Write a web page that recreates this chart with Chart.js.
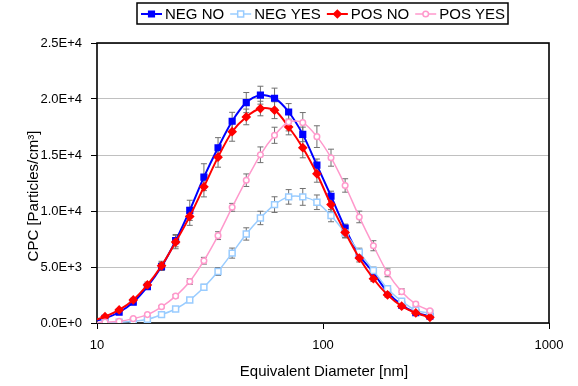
<!DOCTYPE html>
<html>
<head>
<meta charset="utf-8">
<title>CPC vs Equivalent Diameter</title>
<script src="https://cdn.jsdelivr.net/npm/chart.js"></script>
<style>
  html, body { margin: 0; padding: 0; background: #fff; }
  #wrap { width: 578px; height: 386px; }
</style>
</head>
<body>
<div id="wrap"><canvas id="cpcChart" width="578" height="386"></canvas></div>
<script>
// Diametros de movilidad (nm), 16 canales por decada
const diametros = [9.4, 10.85, 12.53, 14.47, 16.71, 19.30, 22.28, 25.73, 29.72, 34.32, 39.63, 45.76,
                   52.85, 61.03, 70.47, 81.38, 93.98, 108.5, 125.3, 144.7, 167.1, 193.0, 222.9, 257.4, 297.2];

// Concentraciones CPC (particulas/cm3)
const negNo  = [100, 420, 960, 1850, 3250, 5040, 7350, 10060, 13020, 15650, 18010, 19680, 20340,
                20070, 18840, 16840, 14090, 11320, 8480, 6050, 4500, 2750, 1600, 920, 600];
const negYes = [0, 20, 60, 150, 330, 750, 1250, 2060, 3200, 4600, 6240, 7950, 9380,
                10570, 11260, 11260, 10780, 9590, 8040, 6330, 4690, 3060, 1950, 1130, 870];
const posNo  = [150, 565, 1165, 2060, 3400, 5110, 7230, 9520, 12160, 14810, 17080, 18400, 19150,
                19000, 17500, 15650, 13320, 10570, 8090, 5800, 3950, 2510, 1500, 900, 510];
const posYes = [0, 80, 150, 390, 750, 1450, 2400, 3700, 5560, 7800, 10330, 12750, 15020,
                16760, 17950, 17890, 16640, 14760, 12280, 9470, 6900, 4480, 2800, 1690, 1100];

// Barras de error (+/-)
const errNegNo  = [0, 40, 80, 150, 250, 350, 550, 900, 1200, 900, 800, 900, 800,
                   900, 750, 650, 550, 450, 350, 300, 250, 150, 100, 80, 50];
const errNegYes = [0, 10, 20, 30, 50, 80, 120, 180, 250, 350, 450, 550, 600,
                   700, 650, 750, 650, 550, 450, 350, 300, 200, 150, 100, 80];
const errPosNo  = [0, 50, 100, 150, 250, 400, 600, 800, 900, 900, 850, 700, 650,
                   750, 700, 900, 750, 600, 450, 350, 250, 200, 150, 100, 60];
const errPosYes = [0, 10, 20, 40, 60, 100, 150, 250, 300, 350, 350, 560, 700,
                   720, 800, 900, 970, 760, 600, 520, 450, 350, 250, 150, 100];

const xTicks = [10, 100, 1000];

const FONT = "'Liberation Sans', Arial, sans-serif";
Chart.defaults.font.family = FONT;
Chart.defaults.color = "#000";

function puntos(valores) {
    return diametros.map((d, i) => ({ x: d, y: valores[i] }));
}

const series = [
    { label: "NEG NO",  data: negNo,  err: errNegNo,  color: "#0000FF", style: "rect",    radius: 4.0, fill: "#0000FF", width: 2,   order: 4 },
    { label: "NEG YES", data: negYes, err: errNegYes, color: "#99CCFF", style: "rect",    radius: 4.2, fill: "#FFFFFF", width: 1.5, order: 3 },
    { label: "POS NO",  data: posNo,  err: errPosNo,  color: "#FF0000", style: "rectRot", radius: 3.8, fill: "#FF0000", width: 2,   order: 2 },
    { label: "POS YES", data: posYes, err: errPosYes, color: "#FF99CC", style: "circle",  radius: 2.8, fill: "#FFFFFF", width: 1.5, order: 1 }
];

// ==============================
// Marco, barras de error
// ==============================
const fondoPlugin = {
    id: "fondo",
    beforeDatasetsDraw(chart) {
        const ctx = chart.ctx;
        const a = chart.chartArea;
        const yScale = chart.scales.y;
        ctx.save();
        // barras de error
        ctx.strokeStyle = "#707070";
        ctx.lineWidth = 1;
        series.forEach((s, di) => {
            const meta = chart.getDatasetMeta(di);
            meta.data.forEach((pt, i) => {
                const e = s.err[i];
                if (!e || pt.x < a.left) return;
                const y1 = yScale.getPixelForValue(s.data[i] + e);
                const y2 = yScale.getPixelForValue(Math.max(s.data[i] - e, 0));
                ctx.beginPath();
                ctx.moveTo(pt.x, y1); ctx.lineTo(pt.x, y2);
                ctx.moveTo(pt.x - 3, y1); ctx.lineTo(pt.x + 3, y1);
                ctx.moveTo(pt.x - 3, y2); ctx.lineTo(pt.x + 3, y2);
                ctx.stroke();
            });
        });
        // marco del area de trazado
        ctx.strokeStyle = "#000";
        ctx.lineWidth = 1.6;
        ctx.strokeRect(a.left, a.top, a.right - a.left, a.bottom - a.top);
        ctx.restore();
    },
    afterDraw(chart) {
        const ctx = chart.ctx;
        const a = chart.chartArea;
        ctx.save();
        ctx.fillStyle = "#000";
        // titulos de ejes
        ctx.font = "15px " + FONT;
        ctx.textAlign = "center";
        ctx.textBaseline = "middle";
        ctx.fillText("Equivalent Diameter [nm]", 324, 372);
        ctx.translate(34, 196);
        ctx.rotate(-Math.PI / 2);
        ctx.fillText("CPC [Particles/cm\u00B3]", 0, 0);
        ctx.setTransform(1, 0, 0, 1, 0, 0);

        // leyenda
        ctx.font = "15px " + FONT;
        ctx.textAlign = "left";
        let x = 141;
        const y = 14;
        series.forEach(s => {
            ctx.strokeStyle = s.color;
            ctx.lineWidth = s.width;
            ctx.beginPath();
            ctx.moveTo(x, y); ctx.lineTo(x + 21, y);
            ctx.stroke();
            ctx.fillStyle = s.fill;
            ctx.lineWidth = 1.5;
            Chart.helpers.drawPoint(ctx, { pointStyle: s.style, radius: s.radius, rotation: 0, borderWidth: 1.5 }, x + 10.5, y);
            ctx.fillStyle = "#000";
            ctx.fillText(s.label, x + 24, y + 1);
            x += 24 + ctx.measureText(s.label).width + 6;
        });
        ctx.strokeStyle = "#000";
        ctx.lineWidth = 1.5;
        ctx.strokeRect(137, 3, 371, 21);
        ctx.restore();
    }
};

// ==============================
// GRAFICO
// ==============================
const cpcChart = new Chart(document.getElementById("cpcChart"), {
    type: "line",
    data: {
        datasets: series.map(s => ({
            label: s.label,
            data: puntos(s.data),
            borderColor: s.color,
            backgroundColor: s.fill,
            borderWidth: s.width,
            pointStyle: s.style,
            pointRadius: s.radius,
            pointBorderColor: s.color,
            pointBackgroundColor: s.fill,
            pointBorderWidth: 1.5,
            tension: 0.3,
            order: s.order
        }))
    },
    options: {
        responsive: false,
        animation: false,
        layout: { padding: { top: 43, right: 29, left: 0, bottom: 0 } },
        plugins: {
            legend: { display: false },
            tooltip: { enabled: false }
        },
        scales: {
            x: {
                type: "logarithmic",
                min: 10,
                max: 1000,
                afterBuildTicks(scale) {
                    scale.ticks = xTicks.map(v => ({ value: v }));
                },
                afterFit(scale) { scale.height = 63; },
                ticks: {
                    font: { size: 13 },
                    padding: 9,
                    maxRotation: 0,
                    callback: v => String(v)
                },
                grid: { drawOnChartArea: false, color: "#000", tickColor: "#000", tickLength: 6 },
                border: { display: false }
            },
            y: {
                min: 0,
                max: 25000,
                afterFit(scale) { scale.width = 97; },
                ticks: {
                    stepSize: 5000,
                    font: { size: 13 },
                    padding: 9,
                    callback: v => Number(v).toExponential(1).replace("e", "E")
                },
                grid: { color: "#c0c0c0", tickColor: "#000", tickLength: 6, lineWidth: 1 },
                border: { display: false }
            }
        }
    },
    plugins: [fondoPlugin]
});
</script>
</body>
</html>
